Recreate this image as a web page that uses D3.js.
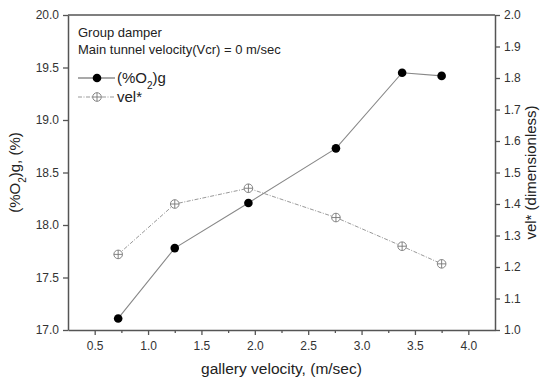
<!DOCTYPE html>
<html>
<head>
<meta charset="utf-8">
<script src="https://cdn.jsdelivr.net/npm/d3@7"></script>
<style>
  body { margin: 0; background: #fff; }
  text { font-family: Arial, "Liberation Sans", sans-serif; }
</style>
</head>
<body>
<div id="chart"></div>
<script>
// gallery velocity (m/sec)
const galleryVel = [0.72, 1.25, 1.94, 2.76, 3.38, 3.75];
// (%O2)g, left axis
const o2Values = [17.11, 17.78, 18.21, 18.73, 19.45, 19.42];
// vel* (dimensionless), right axis
const velStar = [1.24, 1.40, 1.45, 1.357, 1.266, 1.21];

const xTicks = [0.5, 1.0, 1.5, 2.0, 2.5, 3.0, 3.5, 4.0];
const xMinor = [0.75, 1.25, 1.75, 2.25, 2.75, 3.25, 3.75];
const leftTicks = [17.0, 17.5, 18.0, 18.5, 19.0, 19.5, 20.0];
const rightTicks = [1.0, 1.1, 1.2, 1.3, 1.4, 1.5, 1.6, 1.7, 1.8, 1.9, 2.0];

const width = 545, height = 381;
const margin = { top: 15, right: 50, bottom: 51, left: 68 };
const axisColor = "#555";

const svg = d3.select("#chart").append("svg")
  .attr("width", width)
  .attr("height", height);

const x = d3.scaleLinear().domain([0.25, 4.25]).range([margin.left, width - margin.right]);
const yL = d3.scaleLinear().domain([17, 20]).range([height - margin.bottom, margin.top]);
const yR = d3.scaleLinear().domain([1, 2]).range([height - margin.bottom, margin.top]);

// frame top line
svg.append("line")
  .attr("x1", x(0.25)).attr("x2", x(4.25))
  .attr("y1", margin.top).attr("y2", margin.top)
  .attr("stroke", axisColor).attr("stroke-width", 1.5);

function styleAxis(g) {
  g.select(".domain").attr("stroke", axisColor).attr("stroke-width", 1.5);
  g.selectAll(".tick line").attr("stroke", axisColor).attr("stroke-width", 1.3);
  g.selectAll(".tick text").attr("fill", "#333").style("font-size", "12px");
}

// x axis
svg.append("g")
  .attr("transform", `translate(0, ${height - margin.bottom})`)
  .call(d3.axisBottom(x).tickValues(xTicks).tickFormat(d3.format(".1f")).tickSize(5).tickSizeOuter(0).tickPadding(6))
  .call(styleAxis);

svg.append("g")
  .attr("transform", `translate(0, ${height - margin.bottom})`)
  .call(d3.axisBottom(x).tickValues(xMinor).tickFormat("").tickSize(3).tickSizeOuter(0))
  .call((g) => {
    g.select(".domain").remove();
    g.selectAll(".tick line").attr("stroke", axisColor).attr("stroke-width", 1.3);
  });

// left axis
svg.append("g")
  .attr("transform", `translate(${margin.left}, 0)`)
  .call(d3.axisLeft(yL).tickValues(leftTicks).tickFormat(d3.format(".1f")).tickSize(5).tickSizeOuter(0).tickPadding(4))
  .call(styleAxis);

// right axis
svg.append("g")
  .attr("transform", `translate(${width - margin.right}, 0)`)
  .call(d3.axisRight(yR).tickValues(rightTicks).tickFormat(d3.format(".1f")).tickSize(5).tickSizeOuter(0).tickPadding(4))
  .call(styleAxis);

// axis titles
svg.append("text")
  .attr("x", (margin.left + width - margin.right) / 2)
  .attr("y", 374)
  .attr("text-anchor", "middle")
  .style("font-size", "15.5px")
  .attr("fill", "#222")
  .text("gallery velocity, (m/sec)");

const leftTitle = svg.append("text")
  .attr("transform", `translate(20, ${(margin.top + height - margin.bottom) / 2}) rotate(-90)`)
  .attr("text-anchor", "middle")
  .style("font-size", "15px")
  .attr("fill", "#222");
leftTitle.append("tspan").text("(%O");
leftTitle.append("tspan").attr("baseline-shift", "sub").style("font-size", "10px").text("2");
leftTitle.append("tspan").text(")g, (%)");

svg.append("text")
  .attr("transform", `translate(536, ${(margin.top + height - margin.bottom) / 2}) rotate(-90)`)
  .attr("text-anchor", "middle")
  .style("font-size", "15px")
  .attr("fill", "#222")
  .text("vel* (dimensionless)");

// data series
const o2Data = galleryVel.map((v, i) => ({ v, y: o2Values[i] }));
const velData = galleryVel.map((v, i) => ({ v, y: velStar[i] }));

svg.append("path")
  .datum(velData)
  .attr("fill", "none")
  .attr("stroke", "#999")
  .attr("stroke-width", 1)
  .attr("stroke-dasharray", "4,1.5,1,1.5")
  .attr("d", d3.line().x((d) => x(d.v)).y((d) => yR(d.y)));

svg.append("path")
  .datum(o2Data)
  .attr("fill", "none")
  .attr("stroke", "#888")
  .attr("stroke-width", 1.1)
  .attr("d", d3.line().x((d) => x(d.v)).y((d) => yL(d.y)));

function crossCircle(g, cx, cy) {
  g.append("circle").attr("cx", cx).attr("cy", cy).attr("r", 4.3)
    .attr("fill", "#fff").attr("stroke", "#777").attr("stroke-width", 0.9);
  g.append("line").attr("x1", cx - 4.3).attr("x2", cx + 4.3).attr("y1", cy).attr("y2", cy)
    .attr("stroke", "#777").attr("stroke-width", 0.9);
  g.append("line").attr("x1", cx).attr("x2", cx).attr("y1", cy - 4.3).attr("y2", cy + 4.3)
    .attr("stroke", "#777").attr("stroke-width", 0.9);
}

const velMarks = svg.append("g");
velData.forEach((d) => crossCircle(velMarks, x(d.v), yR(d.y)));

svg.append("g")
  .selectAll("circle")
  .data(o2Data)
  .enter()
  .append("circle")
  .attr("cx", (d) => x(d.v))
  .attr("cy", (d) => yL(d.y))
  .attr("r", 4.3)
  .attr("fill", "#000");

// annotation + legend
svg.append("text").attr("x", 78).attr("y", 37)
  .style("font-size", "13px").attr("fill", "#222").text("Group damper");
svg.append("text").attr("x", 78).attr("y", 54)
  .style("font-size", "13px").attr("fill", "#222").text("Main tunnel velocity(Vcr) = 0 m/sec");

const leg = svg.append("g");
leg.append("line").attr("x1", 78).attr("x2", 115).attr("y1", 78).attr("y2", 78)
  .attr("stroke", "#555").attr("stroke-width", 1.1);
leg.append("circle").attr("cx", 97).attr("cy", 78).attr("r", 4.3).attr("fill", "#000");
const legText = leg.append("text").attr("x", 117).attr("y", 83)
  .style("font-size", "15px").attr("fill", "#222");
legText.append("tspan").text("(%O");
legText.append("tspan").attr("baseline-shift", "sub").style("font-size", "10px").text("2");
legText.append("tspan").text(")g");

leg.append("line").attr("x1", 78).attr("x2", 115).attr("y1", 97).attr("y2", 97)
  .attr("stroke", "#999").attr("stroke-width", 1).attr("stroke-dasharray", "4,1.5,1,1.5");
crossCircle(leg, 97, 97);
leg.append("text").attr("x", 117).attr("y", 102)
  .style("font-size", "15px").attr("fill", "#222").text("vel*");
</script>
</body>
</html>
